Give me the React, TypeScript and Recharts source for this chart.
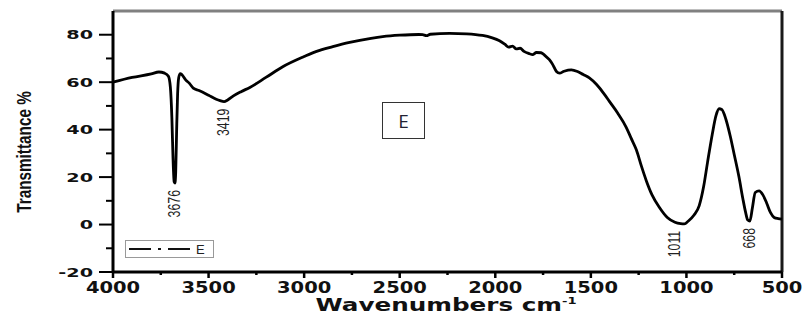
import { LineChart, Line, XAxis, YAxis, ReferenceLine, LabelList, Legend } from "recharts";

// FTIR spectrum of sample E
const wavenumbers = [
  4000, 3900, 3800, 3760, 3730, 3710, 3700, 3692, 3686, 3680, 3676, 3672, 3667, 3662, 3656, 3648,
  3640, 3620, 3600, 3580, 3550, 3500, 3460, 3440, 3419, 3400, 3370, 3330, 3284, 3200, 3112, 3000,
  2935, 2850, 2762, 2650, 2589, 2500, 2400, 2380, 2360, 2340, 2239, 2150, 2067, 2020, 1978, 1950,
  1930, 1910, 1890, 1870, 1850, 1821, 1805, 1785, 1760, 1740, 1717, 1700, 1680, 1664, 1640, 1602,
  1570, 1540, 1508, 1470, 1430, 1404, 1360, 1315, 1290, 1262, 1235, 1210, 1180, 1142, 1100, 1060,
  1030, 1011, 990, 960, 933, 910, 890, 865, 845, 829, 815, 794, 770, 750, 725, 705, 690, 680, 668,
  655, 640, 620, 600, 580, 560, 541, 520, 500,
];
const transmittance = [
  60, 62, 63.5, 64.3, 63.8, 62.5, 58, 45, 28, 18, 17.5, 22, 40, 55, 62, 63.6,
  63.2, 61, 59.5, 57.5, 56.5, 54.5, 52.8, 52.2, 51.8, 52.5, 54.2, 56, 57.8, 62, 66.5, 70.8,
  73, 75, 76.8, 78.5, 79.2, 79.8, 80.1, 80, 79.6, 80.2, 80.6, 80.4, 79.7, 78.8, 77.5, 76,
  74.8, 75.2, 74, 74.3, 73, 72, 71.6, 72.5, 72.4, 71.2, 69.5, 67.5, 64.5, 63.8, 64.6, 65.2,
  64.5, 63.2, 61.8, 59, 55, 52, 47, 41, 36.5, 31.5, 24.5, 18.5, 12.5, 7.3, 3, 1,
  0.4, 0.3, 1.5, 4, 8, 16, 26, 38, 46, 48.8, 48.5, 44.5, 37, 29.5, 20, 11, 5, 2, 1.5,
  7, 13.5, 14.2, 12.5, 9, 5, 3, 2.5, 2.3,
];
const peakLabels = [3676, 3419, 1011, 668];

const xTicks = [4000, 3750, 3500, 3250, 3000, 2750, 2500, 2250, 2000, 1750, 1500, 1250, 1000, 750, 500];
const yTicks = [-20, -10, 0, 10, 20, 30, 40, 50, 60, 70, 80];

const data = wavenumbers.map((wn, i) => ({ wn, t: transmittance[i] }));

const tickFont = "DejaVu Sans, sans-serif";
const narrowFont = "Liberation Sans, Arial, sans-serif";

function XTick({ x, y, payload }: any) {
  const major = payload.value % 500 === 0;
  return (
    <g>
      <line x1={x} x2={x} y1={y} y2={y + (major ? 6 : 3)} stroke="#000" strokeWidth={2.5} />
      {major && (
        <text
          transform={`translate(${x},${y + 21}) scale(1.3,1)`}
          textAnchor="middle"
          fontFamily={tickFont}
          fontWeight="bold"
          fontSize={15}
          fill="#111"
        >
          {payload.value}
        </text>
      )}
    </g>
  );
}

function YTick({ x, y, payload }: any) {
  const major = payload.value % 20 === 0;
  return (
    <g>
      <line x1={x - (major ? 14 : 7)} x2={x} y1={y} y2={y} stroke="#000" strokeWidth={2} />
      {major && (
        <text
          transform={`translate(${x - 20},${y + 4.5}) scale(1.6,1)`}
          textAnchor="end"
          fontFamily={tickFont}
          fontWeight="bold"
          fontSize={12}
          fill="#111"
        >
          {payload.value}
        </text>
      )}
    </g>
  );
}

function PeakLabel({ x, y, index }: any) {
  const wn = data[index].wn;
  if (!peakLabels.includes(wn)) return null;
  const dx = wn === 1011 ? -9 : 0;
  return (
    <text
      transform={`translate(${x + dx + 5},${y + 7}) rotate(-90) scale(0.82,1.05)`}
      textAnchor="end"
      fontFamily={narrowFont}
      fontSize={15}
      fill="#222"
    >
      {wn}
    </text>
  );
}

function LegendBox() {
  return (
    <div
      style={{
        width: 87,
        height: 16,
        border: "1px solid #999",
        display: "flex",
        alignItems: "center",
        background: "#fff",
      }}
    >
      <svg width={66} height={16}>
        <line x1={3} x2={64} y1={8} y2={8} stroke="#111" strokeWidth={2} strokeDasharray="22 7 3 7 22" />
      </svg>
      <span style={{ fontFamily: "Liberation Sans, Arial, sans-serif", fontSize: 13, marginLeft: 4, color: "#222" }}>
        E
      </span>
    </div>
  );
}

export default function App() {
  return (
    <div style={{ position: "absolute", left: 0, top: 0, width: 806, height: 322, background: "#fff" }}>
      <LineChart width={806} height={322} data={data} margin={{ top: 11, right: 24, left: 53, bottom: 0 }}>
        <XAxis
          dataKey="wn"
          type="number"
          domain={[500, 4000]}
          reversed
          ticks={xTicks}
          interval={0}
          height={50}
          tickSize={0}
          tickMargin={0}
          tickLine={false}
          tick={<XTick />}
          axisLine={{ stroke: "#000", strokeWidth: 3 }}
        />
        <YAxis
          type="number"
          domain={[-20, 90]}
          ticks={yTicks}
          interval={0}
          width={60}
          tickSize={0}
          tickMargin={0}
          tickLine={false}
          tick={<YTick />}
          axisLine={{ stroke: "#000", strokeWidth: 3 }}
        />
        <ReferenceLine y={90} stroke="#808080" strokeWidth={3} />
        <ReferenceLine x={500} stroke="#1a1a1a" strokeWidth={3} />
        <Legend
          layout="horizontal"
          verticalAlign="middle"
          align="center"
          wrapperStyle={{ left: 125, top: 240, width: "auto", height: "auto" }}
          content={() => <LegendBox />}
        />
        <Line
          dataKey="t"
          type="monotone"
          stroke="#000"
          strokeWidth={2.8}
          dot={false}
          isAnimationActive={false}
        >
          <LabelList dataKey="t" content={<PeakLabel />} />
        </Line>
      </LineChart>
      <div
        style={{
          position: "absolute",
          left: 25,
          top: 152,
          transform: "translate(-50%,-50%) rotate(-90deg) scale(0.85,1.1)",
          fontFamily: narrowFont,
          fontWeight: "bold",
          fontSize: 18,
          whiteSpace: "nowrap",
          color: "#111",
        }}
      >
        Transmittance %
      </div>
      <div
        style={{
          position: "absolute",
          left: 446,
          top: 295,
          transform: "translateX(-50%) scale(1.45,1)",
          fontFamily: "DejaVu Sans, sans-serif",
          fontWeight: "bold",
          fontSize: 17,
          whiteSpace: "nowrap",
          color: "#111",
        }}
      >
        Wavenumbers cm<sup style={{ fontSize: 9 }}>-1</sup>
      </div>
      <div
        style={{
          position: "absolute",
          left: 382,
          top: 102,
          width: 41,
          height: 35,
          border: "1.5px solid #333",
          display: "flex",
          alignItems: "center",
          justifyContent: "center",
          fontFamily: "Open Sans, sans-serif",
          fontSize: 19,
          color: "#223",
        }}
      >
        E
      </div>
    </div>
  );
}
